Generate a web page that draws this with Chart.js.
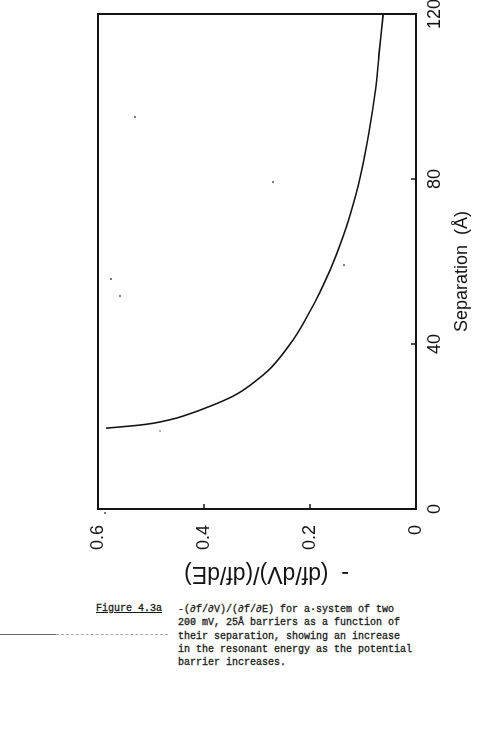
<!DOCTYPE html>
<html>
<head>
<meta charset="utf-8">
<script src="https://cdn.jsdelivr.net/npm/chart.js@4.4.1/dist/chart.umd.min.js"></script>
<style>
  html, body { margin: 0; padding: 0; background: #fff; }
  body { width: 480px; height: 729px; overflow: hidden; position: relative; }
  #wrap { position: absolute; left: 0; top: 600px; width: 620px; height: 480px;
          transform-origin: 0 0; transform: rotate(-90deg); }
  #fig { position: absolute; left: 96px; top: 603px; font: 10px "Liberation Mono", monospace;
         color: #1a1a1a; text-decoration: underline; white-space: pre; -webkit-text-stroke: 0.3px #1a1a1a; }
  #cap { position: absolute; left: 178px; top: 603px; font: 10px "Liberation Mono", monospace;
         line-height: 13.3px; color: #1a1a1a; white-space: pre; -webkit-text-stroke: 0.3px #1a1a1a; }
  #scan1 { position: absolute; left: 0; top: 634px; width: 56px; height: 1px; background: #666; }
  #scan2 { position: absolute; left: 56px; top: 634px; width: 112px; height: 0; border-top: 1px dashed #aaa; }
  .sp { position: absolute; width: 2px; height: 2px; background: #555; border-radius: 1px; }
</style>
</head>
<body>
<div id="wrap"><canvas id="c" width="620" height="480"></canvas></div>
<div id="fig">Figure 4.3a</div>
<div id="cap">-(∂f/∂V)/(∂f/∂E) for a·system of two
200 mV, 25Å barriers as a function of
their separation, showing an increase
in the resonant energy as the potential
barrier increases.</div>
<div id="scan1"></div><div id="scan2"></div>
<div class="sp" style="left:134px;top:116px"></div>
<div class="sp" style="left:272px;top:181px"></div>
<div class="sp" style="left:343px;top:264px"></div>
<div class="sp" style="left:110px;top:278px"></div>
<div class="sp" style="left:119px;top:295px"></div>
<div class="sp" style="left:104px;top:512px"></div>
<div class="sp" style="left:159px;top:430px;background:#999"></div>
<script>
// Separation (Å) and -(df/dV)/(df/dE)
const separation = [19.6, 20.0, 20.5, 21.1, 22.5, 25.2, 28.0, 31.3, 35.0, 41.0, 47.0, 52.6, 58.0, 64.5, 71.0, 80.0, 91.0, 102.0, 110.0, 119.8];
const ratio      = [0.585, 0.549, 0.511, 0.483, 0.440, 0.383, 0.336, 0.300, 0.268, 0.232, 0.204, 0.181, 0.162, 0.142, 0.125, 0.106, 0.089, 0.076, 0.070, 0.062];
const sepTicks   = [0, 40, 80, 120];
const ratioTicks = [0, 0.2, 0.4, 0.6];
const sepTitle   = 'Separation  (Å)';
const ratioTitle = '-  (df/dV)/(df/dE)';

const INK = '#141414';
const FONT = '"Liberation Sans", Arial, sans-serif';

const frameAndTicks = {
  id: 'frameAndTicks',
  afterDraw(chart) {
    const { ctx, chartArea: a, scales } = chart;
    ctx.save();
    ctx.strokeStyle = INK;
    ctx.lineWidth = 2;
    ctx.strokeRect(a.left, a.top, a.right - a.left, a.bottom - a.top);
    ctx.lineWidth = 1.5;
    ctx.beginPath();
    scales.x.ticks.forEach(t => {
      const p = scales.x.getPixelForValue(t.value);
      ctx.moveTo(p, a.bottom); ctx.lineTo(p, a.bottom - 5);
    });
    scales.y.ticks.forEach(t => {
      const p = scales.y.getPixelForValue(t.value);
      ctx.moveTo(a.left, p); ctx.lineTo(a.left + 5, p);
    });
    ctx.stroke();
    ctx.restore();
  }
};

new Chart(document.getElementById('c'), {
  type: 'line',
  data: {
    datasets: [{
      data: separation.map((s, i) => ({ x: s, y: ratio[i] })),
      borderColor: INK,
      borderWidth: 1.6,
      pointRadius: 0,
      fill: false,
      tension: 0.4
    }]
  },
  options: {
    responsive: false,
    animation: false,
    devicePixelRatio: 1,
    layout: { padding: { top: 98, right: 34, left: 0, bottom: 0 } },
    plugins: { legend: { display: false }, tooltip: { enabled: false } },
    scales: {
      x: {
        type: 'linear', position: 'bottom', min: 0, max: 120,
        afterBuildTicks: s => { s.ticks = sepTicks.map(v => ({ value: v })); },
        afterFit: s => { s.height = 64; },
        grid: { display: false, drawTicks: false },
        border: { display: false },
        ticks: { padding: 8, color: INK, font: { family: FONT, size: 18 }, maxRotation: 0,
                 callback: v => String(v) },
        title: { display: true, text: sepTitle + '    ', color: INK,
                 font: { family: FONT, size: 18 }, padding: { top: 0, bottom: 7 } }
      },
      y: {
        type: 'linear', position: 'left', min: 0, max: 0.6,
        afterBuildTicks: s => { s.ticks = ratioTicks.map(v => ({ value: v })); },
        afterFit: s => { s.width = 91; },
        grid: { display: false, drawTicks: false },
        border: { display: false },
        ticks: { padding: 16, color: INK, font: { family: FONT, size: 18 },
                 callback: v => String(v) },
        title: { display: true, text: ratioTitle + '   ', color: INK,
                 font: { family: FONT, size: 23 }, padding: { top: 13, bottom: 0 } }
      }
    }
  },
  plugins: [frameAndTicks]
});
</script>
</body>
</html>
